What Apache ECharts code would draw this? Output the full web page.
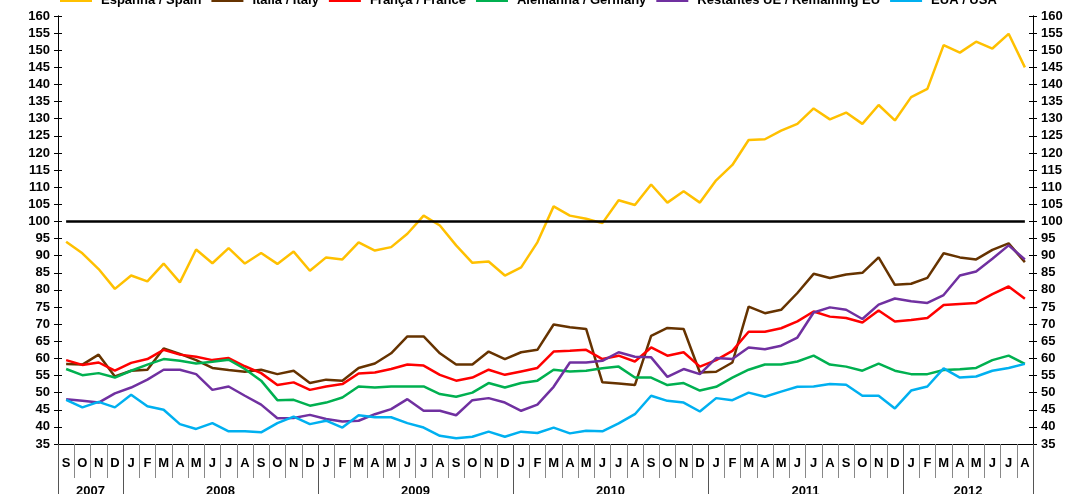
<!DOCTYPE html>
<html>
<head>
<meta charset="utf-8">
<script src="https://cdn.jsdelivr.net/npm/echarts@6/dist/echarts.min.js"></script>
<style>
html,body{margin:0;padding:0;background:#fff;}
#chart{width:1070px;height:494px;}
</style>
</head>
<body>
<div id="chart"></div>
<script>
var monthLabels = ['S','O','N','D',
  'J','F','M','A','M','J','J','A','S','O','N','D',
  'J','F','M','A','M','J','J','A','S','O','N','D',
  'J','F','M','A','M','J','J','A','S','O','N','D',
  'J','F','M','A','M','J','J','A','S','O','N','D',
  'J','F','M','A','M','J','J','A'];
var years = ['2007','2008','2009','2010','2011','2012'];
var yearMonthCounts = [4, 12, 12, 12, 12, 8];
var seriesNames = ['Espanha / Spain','Itália / Italy','França / France','Alemanha / Germany','Restantes UE / Remaining EU','EUA / USA'];
var seriesColors = ['#FFC000','#663300','#FF0000','#00B050','#7030A0','#00B0F0'];
var baseline = 100;

var yellow = [94.1,90.7,86.1,80.3,84.2,82.5,87.7,82.2,91.8,87.8,92.2,87.7,90.8,87.6,91.2,
  85.6,89.5,88.9,93.9,91.5,92.5,96.4,101.7,98.8,93.0,87.9,88.3,84.2,86.6,93.9,104.4,101.7,
  100.8,99.5,106.2,104.8,110.8,105.5,108.8,105.5,112.0,116.5,123.8,124.0,126.5,128.5,
  133.0,129.8,131.8,128.5,134.0,129.5,136.3,138.7,151.5,149.3,152.5,150.5,154.8,145.0];
var brown = [58.4,58.2,61.1,54.7,56.4,56.7,62.9,61.3,59.5,57.2,56.6,56.1,56.7,55.4,56.4,
  52.8,53.8,53.5,57.2,58.5,61.5,66.4,66.4,61.5,58.2,58.2,62.0,59.8,61.8,62.5,69.9,69.1,
  68.6,53.0,52.7,52.2,66.6,68.9,68.6,55.9,56.1,58.8,75.1,73.2,74.2,79.1,84.7,83.5,84.5,
  85.0,89.5,81.5,81.8,83.5,90.7,89.5,88.9,91.7,93.6,88.1];
var red = [59.5,58.1,58.8,56.4,58.7,59.8,62.5,61.1,60.5,59.5,60.1,57.7,55.7,52.2,53.0,
  50.8,51.8,52.5,55.6,55.9,56.9,58.2,57.9,55.2,53.5,54.4,56.7,55.2,56.2,57.2,62.0,62.2,
  62.5,59.8,60.8,59.1,63.2,60.8,61.8,57.6,59.5,62.2,67.8,67.8,68.8,70.8,73.7,72.2,71.8,
  70.5,74.0,70.8,71.2,71.8,75.6,75.9,76.2,78.8,81.0,77.4];
var green = [56.9,55.1,55.7,54.4,56.4,58.2,59.8,59.3,58.5,59.0,59.6,56.9,53.5,47.8,47.9,
  46.2,47.1,48.6,51.8,51.5,51.8,51.8,51.8,49.6,48.8,50.0,52.8,51.5,52.8,53.5,56.7,56.2,
  56.4,57.1,57.6,54.4,54.4,52.2,52.8,50.6,51.7,54.4,56.7,58.2,58.2,59.1,60.8,58.2,57.6,
  56.4,58.5,56.4,55.4,55.4,56.6,56.8,57.2,59.5,60.8,58.4];
var purple = [48.1,47.6,47.1,49.8,51.5,53.8,56.7,56.7,55.4,50.8,51.8,49.1,46.5,42.5,42.6,
  43.5,42.3,41.6,41.8,43.7,45.2,48.1,44.7,44.7,43.4,47.8,48.4,47.1,44.7,46.5,51.7,58.8,
  58.8,59.3,61.8,60.5,60.3,54.6,56.9,55.4,60.1,59.8,63.2,62.7,63.7,66.1,73.4,74.9,74.2,
  71.5,75.7,77.5,76.7,76.2,78.5,84.2,85.4,89.1,93.0,88.9];
var cyan = [47.9,45.7,47.3,45.7,49.4,46.0,45.0,40.8,39.4,41.1,38.7,38.7,38.4,41.1,43.0,
  40.8,41.8,39.8,43.4,42.8,42.8,41.1,39.8,37.4,36.7,37.1,38.6,37.1,38.6,38.2,39.8,38.1,
  38.9,38.7,41.0,43.7,49.1,47.6,47.1,44.5,48.4,47.8,50.0,48.8,50.3,51.7,51.8,52.5,52.3,
  49.1,49.1,45.4,50.6,51.8,57.1,54.4,54.7,56.4,57.2,58.4];

var seriesData = [yellow, brown, red, green, purple, cyan];

// Year axis: half-month positions (0..120)
var halfCount = monthLabels.length * 2;
var yearAxisData = [];
for (var k = 0; k <= halfCount; k++) yearAxisData.push('');
var yearBounds = [0];
var yearCenters = [];
var acc = 0;
for (var y = 0; y < years.length; y++) {
  yearCenters.push((acc * 2) + yearMonthCounts[y]);
  yearAxisData[(acc * 2) + yearMonthCounts[y]] = years[y];
  acc += yearMonthCounts[y];
  yearBounds.push(acc * 2);
}

var chart = echarts.init(document.getElementById('chart'), null, {renderer:'canvas'});
var font = 'Liberation Sans, Arial, sans-serif';
function yAx(pos, inside, showLabel) {
  return {
    type:'value', position:pos, min:35, max:160, interval:5,
    axisLine:{show:true, lineStyle:{color:'#000', width:1}},
    axisTick:{show:true, inside:inside, length:4, lineStyle:{color:'#000'}},
    axisLabel:{show:showLabel, color:'#000', fontFamily:font, fontWeight:'bold', fontSize:13, margin:8},
    splitLine:{show:false}
  };
}
var series = seriesNames.map(function(n, i) {
  return {
    name:n, type:'line', data:seriesData[i], symbol:'none', yAxisIndex:0, xAxisIndex:0,
    lineStyle:{color:seriesColors[i], width:2.5}, itemStyle:{color:seriesColors[i]},
    z: 3 + i
  };
});
series.push({
  name:'base', type:'line', data:[], xAxisIndex:0, yAxisIndex:0, silent:true,
  markLine:{symbol:'none', silent:true, label:{show:false},
    lineStyle:{color:'#000', width:2.5, type:'solid'},
    data:[[{coord:[0, baseline]}, {coord:[monthLabels.length - 1, baseline]}]]},
  z:2
});

chart.setOption({
  animation:false,
  textStyle:{fontFamily:font},
  legend:{
    data:seriesNames, top:-11, left:55, width:1050, itemGap:10, itemWidth:32, itemHeight:3,
    icon:'rect',
    textStyle:{color:'#000', fontWeight:'bold', fontSize:13, fontFamily:font, padding:[0,0,0,4]}
  },
  grid:{left:58, right:37, top:16, bottom:50, containLabel:false, outerBoundsMode:'none'},
  xAxis:[
    {type:'category', data:monthLabels, boundaryGap:true, position:'bottom',
      axisLine:{show:true, lineStyle:{color:'#000', width:1}},
      axisTick:{show:true, interval:0, length:34, lineStyle:{color:'#888'}},
      axisLabel:{interval:0, color:'#000', fontFamily:font, fontWeight:'bold', fontSize:13, margin:13},
      splitLine:{show:false}},
    {type:'category', data:yearAxisData, boundaryGap:false, position:'bottom',
      axisLine:{show:false},
      axisTick:{show:true, length:50, lineStyle:{color:'#555'},
        interval:function(idx){ return yearBounds.indexOf(idx) >= 0; }},
      axisLabel:{color:'#000', fontFamily:font, fontWeight:'bold', fontSize:13, margin:41,
        interval:function(idx){ return yearCenters.indexOf(idx) >= 0; }},
      splitLine:{show:false}}
  ],
  yAxis:[yAx('left', false, true), yAx('left', true, false), yAx('right', false, true), yAx('right', true, false)],
  series:series
});
</script>
</body>
</html>
